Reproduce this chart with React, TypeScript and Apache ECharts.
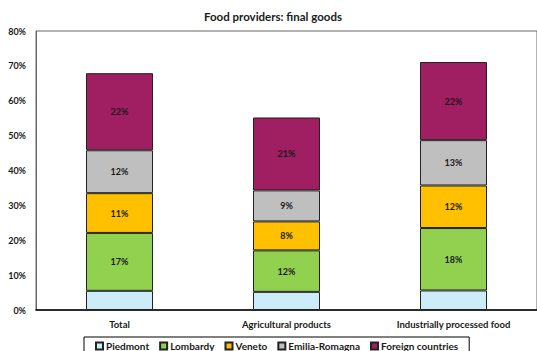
import React, { useEffect, useRef } from "react";
import * as echarts from "echarts";

const categories = ["Total", "Agricultural products", "Industrially processed food"];
const seriesNames = ["Piedmont", "Lombardy", "Veneto", "Emilia-Romagna", "Foreign countries"];
const piedmont = [5.5, 5.2, 5.6];
const lombardy = [16.6, 11.9, 17.9];
const veneto = [11.4, 8.3, 12.2];
const emiliaRomagna = [12.3, 8.9, 13.0];
const foreignCountries = [22.1, 20.9, 22.4];
const yTicks = [0, 10, 20, 30, 40, 50, 60, 70, 80];
const colors = ["#CCECFA", "#92D050", "#FFC000", "#BFBFBF", "#A01E62"];

const FONT = "Lato, 'Open Sans', sans-serif";

export default function App() {
  const ref = useRef<HTMLDivElement>(null);
  useEffect(() => {
    if (!ref.current) return;
    const chart = echarts.init(ref.current, undefined, { renderer: "svg" });
    const values = [piedmont, lombardy, veneto, emiliaRomagna, foreignCountries];
    chart.setOption({
      animation: false,
      backgroundColor: "#ffffff",
      title: {
        text: "Food providers: final goods",
        left: 268,
        textAlign: "center",
        top: 5,
        textStyle: { fontFamily: FONT, fontSize: 11.5, fontWeight: "bold", color: "#1a1a1a" },
      },
      grid: {
        left: 36,
        top: 31,
        width: 506,
        bottom: 41,
        show: true,
        borderColor: "#666666",
        borderWidth: 1,
        containLabel: false,
      },
      legend: {
        data: seriesNames,
        left: 84,
        top: 337,
        padding: [4, 11, 6, 11],
        itemGap: 10,
        itemWidth: 7,
        itemHeight: 7,
        icon: "rect",
        borderColor: "#000000",
        borderWidth: 1,
        textStyle: { fontFamily: FONT, fontSize: 10, fontWeight: "bold", color: "#1a1a1a", padding: [0, 0, 0, -2] },
      },
      xAxis: {
        type: "category",
        data: categories,
        axisLine: { lineStyle: { color: "#000000", width: 1.5 } },
        axisTick: { show: false },
        axisLabel: { fontFamily: FONT, fontSize: 9.5, fontWeight: "bold", color: "#1a1a1a", margin: 9 },
      },
      yAxis: {
        type: "value",
        min: yTicks[0],
        max: yTicks[yTicks.length - 1],
        interval: 10,
        splitLine: { show: false },
        axisLine: { show: true, lineStyle: { color: "#666666", width: 1 } },
        axisTick: { show: false },
        axisLabel: {
          formatter: "{value}%",
          fontFamily: FONT,
          fontSize: 9,
          fontWeight: "bold",
          color: "#1a1a1a",
          margin: 10,
        },
      },
      series: seriesNames.map((name, i) => ({
        name,
        type: "bar",
        stack: "total",
        barWidth: 67,
        data: values[i],
        itemStyle: { color: colors[i], borderColor: "#222222", borderWidth: 1 },
        label: {
          show: i > 0,
          position: "inside",
          formatter: (p: any) => Math.round(p.value) + "%",
          fontFamily: FONT,
          fontSize: 9,
          fontWeight: "bold",
          color: "#1a1a1a",
        },
      })),
    });
    return () => chart.dispose();
  }, []);
  return <div ref={ref} style={{ width: 537, height: 351, position: "absolute", left: 0, top: 0 }} />;
}
